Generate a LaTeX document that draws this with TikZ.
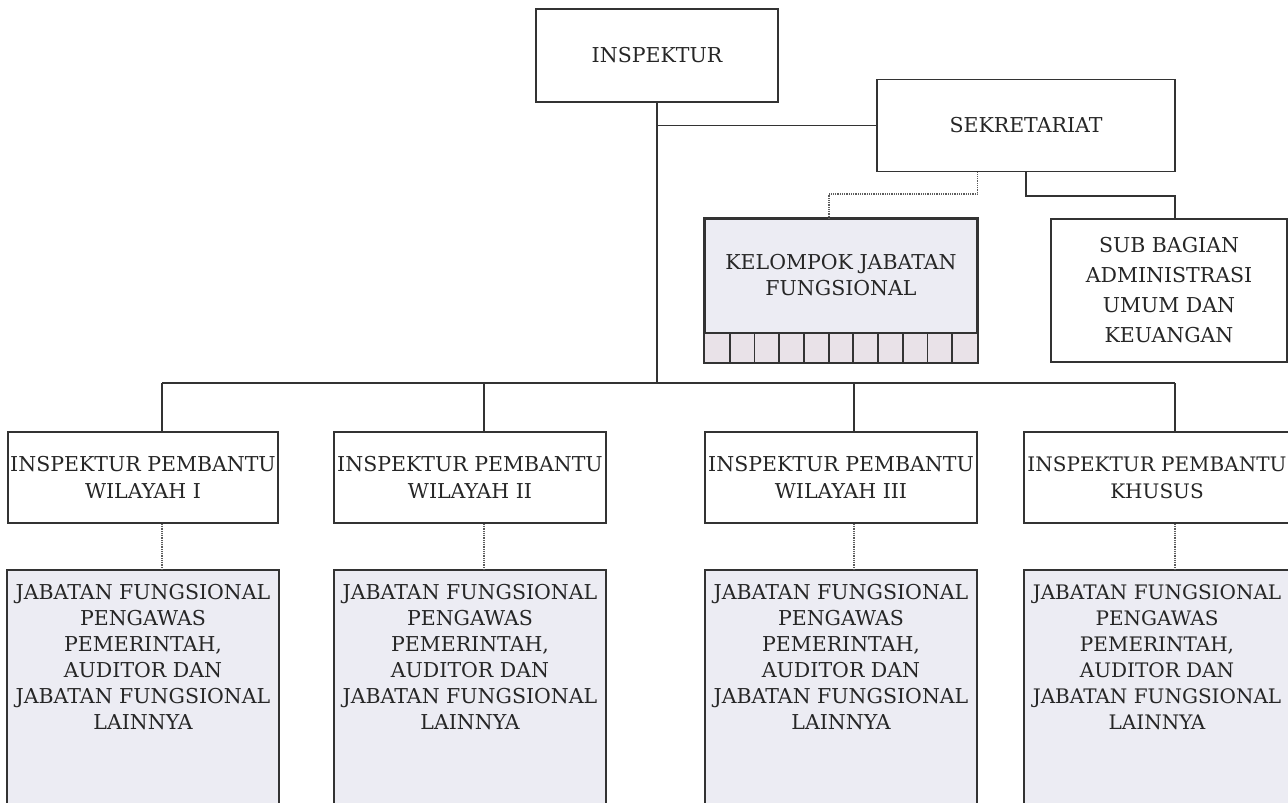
\documentclass[tikz,border=0pt]{standalone}
\usepackage{fontspec}
\setmainfont{DejaVu Serif}
\definecolor{linec}{HTML}{333333}
\definecolor{txtc}{HTML}{262626}
\definecolor{jabfill}{HTML}{ECECF3}
\definecolor{gridfill}{HTML}{E9E2E8}
\begin{document}
\begin{tikzpicture}[x=1pt,y=-1pt,
  box/.style={draw=linec, line width=1.8pt, fill=white, inner sep=0pt, align=center, text=txtc, font=\fontsize{20.5}{27}\selectfont},
  jab/.style={box, fill=jabfill},
  txt/.style={inner sep=0pt, align=center, text=txtc},
  conn/.style={draw=linec, line width=1.8pt},
  dotconn/.style={draw=linec!80, line width=1.1pt, dash pattern=on 1pt off 0.8pt}]
\useasboundingbox (0,0) rectangle (1288,803);
\clip (0,0) rectangle (1288,803);
\fill[white] (0,0) rectangle (1288,803);

% top level
\node[box, minimum width=242, minimum height=93] (insp) at (657,55.5) {INSPEKTUR};
\node[box, minimum width=298, minimum height=92] (sek) at (1026,125.5) {SEKRETARIAT};

% second level
\node[jab, fill=jabfill, minimum width=272, minimum height=143] (kel) at (841,290.5) {};
\node[txt, font=\fontsize{20.5}{26}\selectfont] (kelt) at (841,275) {KELOMPOK JABATAN\\FUNGSIONAL};
\fill[gridfill] (705,333) rectangle (977,362);
\draw[conn] (705,333) -- (977,333);
\foreach \i in {1,...,10} {\draw[conn] ({705+\i*24.727},333) -- ({705+\i*24.727},362);}
\draw[draw=linec, line width=1.8pt] (kel.north west) rectangle (kel.south east);

\node[box, minimum width=236, minimum height=143, font=\fontsize{20.5}{30}\selectfont] (sub) at (1169,290.5) {SUB BAGIAN\\ADMINISTRASI\\UMUM DAN\\KEUANGAN};

% inspektur pembantu
\node[box, minimum width=270, minimum height=91] (w1) at (143,477.5) {INSPEKTUR PEMBANTU\\WILAYAH I};
\node[box, minimum width=272, minimum height=91] (w2) at (470,477.5) {INSPEKTUR PEMBANTU\\WILAYAH II};
\node[box, minimum width=272, minimum height=91] (w3) at (841,477.5) {INSPEKTUR PEMBANTU\\WILAYAH III};
\node[box, minimum width=272, minimum height=91] (w4) at (1160,477.5) {};
\node[txt, font=\fontsize{20}{27}\selectfont] (w4t) at (1157,477.5) {INSPEKTUR PEMBANTU\\KHUSUS};

% jabatan fungsional boxes
\foreach \n/\cx/\tx/\fs in {j1/143/143/20.5, j2/470/470/20.5, j3/841/841/20.5, j4/1160/1157/20} {
  \node[jab, minimum width=272, minimum height=260] (\n) at (\cx,700) {};
  \node[txt, font=\fontsize{\fs}{26}\selectfont] (\n t) at (\tx,657) {JABATAN FUNGSIONAL\\PENGAWAS\\PEMERINTAH,\\AUDITOR DAN\\JABATAN FUNGSIONAL\\LAINNYA};
}

% connectors
\coordinate (t1) at (162,383);
\coordinate (t2) at (484,383);
\coordinate (t3) at (854,383);
\coordinate (t4) at (1175,383);
\coordinate (d1) at (829,194);
\coordinate (s1) at (1175,196);

\draw[conn] (insp.south) -- (insp.south |- t1);
\draw[conn] (insp.south |- sek.west) -- (sek.west);
\draw[conn] (t1) -- (t4);
\draw[conn] (t1) -- (t1 |- w1.north);
\draw[conn] (t2) -- (t2 |- w2.north);
\draw[conn] (t3) -- (t3 |- w3.north);
\draw[conn] (t4) -- (t4 |- w4.north);
\draw[conn] (sek.south) |- (s1) -- (s1 |- sub.north);
\draw[dotconn] (sek.south -| kel.east) |- (d1) -- (d1 |- kel.north);
\draw[dotconn] (t1 |- w1.south) -- (t1 |- j1.north);
\draw[dotconn] (t2 |- w2.south) -- (t2 |- j2.north);
\draw[dotconn] (t3 |- w3.south) -- (t3 |- j3.north);
\draw[dotconn] (t4 |- w4.south) -- (t4 |- j4.north);
\end{tikzpicture}
\end{document}
